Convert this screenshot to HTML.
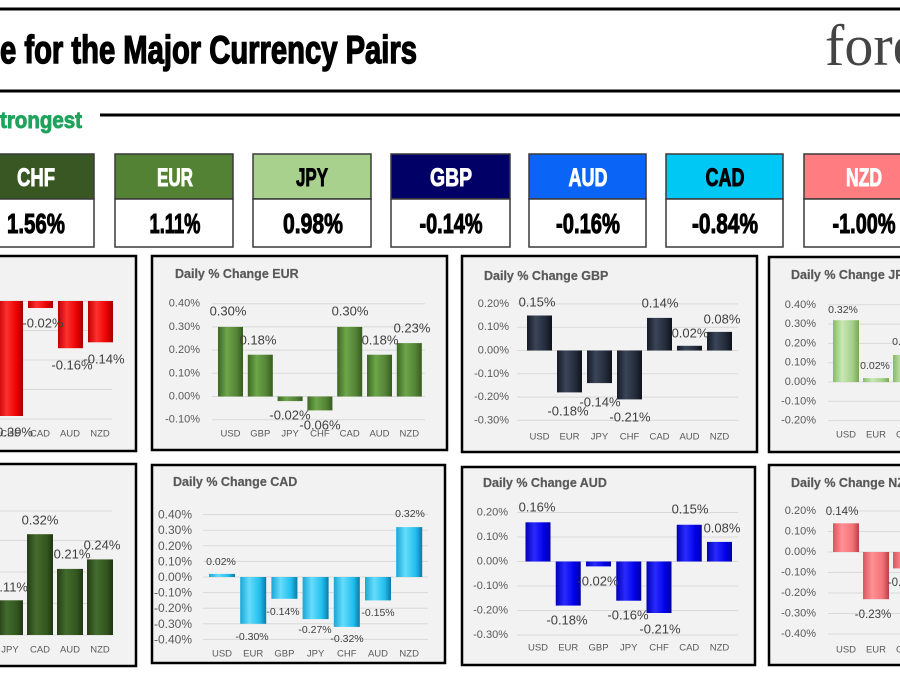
<!DOCTYPE html>
<html>
<head>
<meta charset="utf-8">
<style>
html,body{margin:0;padding:0;background:#fff;}
svg{display:block;}
text{font-family:"Liberation Sans",Arial,sans-serif;}
.t{font-size:12.5px;font-weight:bold;fill:#595959;stroke:#595959;stroke-width:0.2;}
.y{font-size:11px;fill:#595959;text-anchor:end;dominant-baseline:central;}
.c{font-size:9.5px;fill:#595959;text-anchor:middle;dominant-baseline:central;}
.d{font-size:13px;fill:#404040;text-anchor:middle;dominant-baseline:central;}
.ds{font-size:10.5px;fill:#404040;text-anchor:middle;dominant-baseline:central;}
.g{stroke:#d9d9d9;stroke-width:1;}
.p{fill:#f2f2f2;stroke:#000;stroke-width:2.5;}
.hb{font-weight:bold;font-size:25px;text-anchor:middle;stroke-width:0.9;}
.vb{font-weight:bold;font-size:28px;text-anchor:middle;fill:#000;stroke:#000;stroke-width:1;}
</style>
</head>
<body>
<svg width="900" height="676" viewBox="0 0 900 676" xmlns="http://www.w3.org/2000/svg">
<defs>
<linearGradient id="gR"><stop offset="0" stop-color="#c00000"/><stop offset=".35" stop-color="#ff3030"/><stop offset=".75" stop-color="#ea0000"/><stop offset="1" stop-color="#a00000"/></linearGradient>
<linearGradient id="gD"><stop offset="0" stop-color="#243d16"/><stop offset=".35" stop-color="#436c2d"/><stop offset=".75" stop-color="#34561f"/><stop offset="1" stop-color="#1f3513"/></linearGradient>
<linearGradient id="gE"><stop offset="0" stop-color="#3d6823"/><stop offset=".35" stop-color="#6ca64a"/><stop offset=".75" stop-color="#548235"/><stop offset="1" stop-color="#355c1e"/></linearGradient>
<linearGradient id="gJ"><stop offset="0" stop-color="#86ba66"/><stop offset=".35" stop-color="#c9e8b4"/><stop offset=".75" stop-color="#a5cf8a"/><stop offset="1" stop-color="#75a855"/></linearGradient>
<linearGradient id="gG"><stop offset="0" stop-color="#151a26"/><stop offset=".35" stop-color="#3a4558"/><stop offset=".75" stop-color="#232b3a"/><stop offset="1" stop-color="#0e121a"/></linearGradient>
<linearGradient id="gA"><stop offset="0" stop-color="#0000b8"/><stop offset=".35" stop-color="#2a2aff"/><stop offset=".75" stop-color="#0000e8"/><stop offset="1" stop-color="#00009a"/></linearGradient>
<linearGradient id="gC"><stop offset="0" stop-color="#19a6d6"/><stop offset=".35" stop-color="#66dcfb"/><stop offset=".75" stop-color="#22bfee"/><stop offset="1" stop-color="#0a7aa8"/></linearGradient>
<linearGradient id="gN"><stop offset="0" stop-color="#d9565e"/><stop offset=".35" stop-color="#ff9094"/><stop offset=".75" stop-color="#f37378"/><stop offset="1" stop-color="#bb3f47"/></linearGradient>
</defs>

<!-- header lines -->
<line x1="0" y1="9" x2="900" y2="9" stroke="#000" stroke-width="3"/>
<line x1="0" y1="91" x2="900" y2="91" stroke="#000" stroke-width="3"/>
<line x1="100" y1="115" x2="900" y2="115" stroke="#000" stroke-width="3"/>

<text x="0" y="63" font-size="39" font-weight="bold" fill="#000" stroke="#000" stroke-width="1.4" textLength="417" lengthAdjust="spacingAndGlyphs">e for the Major Currency Pairs</text>
<text x="825" y="65" font-size="58" fill="#444" style="font-family:'Liberation Serif',serif">forexlive</text>
<text x="0" y="128" font-size="23" font-weight="bold" fill="#1fa35c" stroke="#1fa35c" stroke-width="0.9" textLength="82" lengthAdjust="spacingAndGlyphs">trongest</text>

<!-- currency boxes -->
<g stroke="#3a3a3a" stroke-width="1.5">
<rect x="-23" y="154" width="117" height="45" fill="#385723"/><rect x="-23" y="199" width="117" height="48" fill="#fff"/>
<rect x="115" y="154" width="118" height="45" fill="#548235"/><rect x="115" y="199" width="118" height="48" fill="#fff"/>
<rect x="253" y="154" width="118" height="45" fill="#a9d18e"/><rect x="253" y="199" width="118" height="48" fill="#fff"/>
<rect x="391" y="154" width="119" height="45" fill="#000066"/><rect x="391" y="199" width="119" height="48" fill="#fff"/>
<rect x="529" y="154" width="117" height="45" fill="#0a64f5"/><rect x="529" y="199" width="117" height="48" fill="#fff"/>
<rect x="666" y="154" width="117" height="45" fill="#00c8f5"/><rect x="666" y="199" width="117" height="48" fill="#fff"/>
<rect x="804" y="154" width="117" height="45" fill="#ff7c80"/><rect x="804" y="199" width="117" height="48" fill="#fff"/>
</g>
<text class="hb" x="36" y="186" fill="#fff" stroke="#fff" textLength="38" lengthAdjust="spacingAndGlyphs">CHF</text>
<text class="hb" x="175" y="186" fill="#fff" stroke="#fff" textLength="36" lengthAdjust="spacingAndGlyphs">EUR</text>
<text class="hb" x="312" y="186" fill="#000" stroke="#000" textLength="32" lengthAdjust="spacingAndGlyphs">JPY</text>
<text class="hb" x="451" y="186" fill="#fff" stroke="#fff" textLength="42" lengthAdjust="spacingAndGlyphs">GBP</text>
<text class="hb" x="588" y="186" fill="#fff" stroke="#fff" textLength="39" lengthAdjust="spacingAndGlyphs">AUD</text>
<text class="hb" x="725" y="186" fill="#000" stroke="#000" textLength="39" lengthAdjust="spacingAndGlyphs">CAD</text>
<text class="hb" x="864" y="186" fill="#fff" stroke="#fff" textLength="36" lengthAdjust="spacingAndGlyphs">NZD</text>

<text class="vb" x="36" y="233" textLength="58" lengthAdjust="spacingAndGlyphs">1.56%</text>
<text class="vb" x="175" y="233" textLength="51" lengthAdjust="spacingAndGlyphs">1.11%</text>
<text class="vb" x="313" y="233" textLength="60" lengthAdjust="spacingAndGlyphs">0.98%</text>
<text class="vb" x="451" y="233" textLength="63" lengthAdjust="spacingAndGlyphs">-0.14%</text>
<text class="vb" x="588" y="233" textLength="64" lengthAdjust="spacingAndGlyphs">-0.16%</text>
<text class="vb" x="725" y="233" textLength="66" lengthAdjust="spacingAndGlyphs">-0.84%</text>
<text class="vb" x="864" y="233" textLength="63" lengthAdjust="spacingAndGlyphs">-1.00%</text>

<!-- P1 USD (red) -->
<rect class="p" x="-5" y="256" width="141" height="195"/>
<g class="g"><line x1="0" y1="301" x2="112" y2="301"/><line x1="0" y1="330.5" x2="112" y2="330.5"/><line x1="0" y1="360" x2="112" y2="360"/><line x1="0" y1="389.5" x2="112" y2="389.5"/><line x1="0" y1="419" x2="112" y2="419"/></g>
<g fill="url(#gR)">
<rect x="-2" y="301" width="25" height="115"/>
<rect x="28" y="301" width="25" height="7"/>
<rect x="58" y="301" width="25" height="47.2"/>
<rect x="88" y="301" width="25" height="41.3"/>
</g>
<text class="c" x="10" y="434">CHF</text><text class="c" x="40" y="434">CAD</text><text class="c" x="70" y="434">AUD</text><text class="c" x="100" y="434">NZD</text>
<text class="d" x="43" y="323">-0.02%</text>
<text class="d" x="104" y="359">-0.14%</text>
<text class="d" x="72" y="365">-0.16%</text>
<text class="d" x="33" y="432" style="text-anchor:end">-0.39%</text>

<!-- P2 CHF (dark green) -->
<rect class="p" x="-5" y="464" width="141" height="202"/>
<g class="g"><line x1="0" y1="635" x2="112" y2="635"/><line x1="0" y1="603.5" x2="112" y2="603.5"/><line x1="0" y1="572" x2="112" y2="572"/><line x1="0" y1="540.5" x2="112" y2="540.5"/><line x1="0" y1="511" x2="112" y2="511"/></g>
<g fill="url(#gD)">
<rect x="-2" y="600.3" width="25" height="34.7"/>
<rect x="27" y="534.2" width="26" height="100.8"/>
<rect x="57" y="568.9" width="26" height="66.1"/>
<rect x="87" y="559.4" width="26" height="75.6"/>
</g>
<text class="c" x="10" y="650">JPY</text><text class="c" x="40" y="650">CAD</text><text class="c" x="70" y="650">AUD</text><text class="c" x="100" y="650">NZD</text>
<text class="d" x="28" y="587" style="text-anchor:end">0.11%</text>
<text class="d" x="40" y="520">0.32%</text>
<text class="d" x="102" y="545">0.24%</text>
<text class="d" x="72" y="554">0.21%</text>

<!-- P3 EUR -->
<rect class="p" x="152" y="256" width="295" height="194"/>
<text class="t" x="175" y="278">Daily % Change EUR</text>
<g class="g"><line x1="212" y1="303.7" x2="425" y2="303.7"/><line x1="212" y1="326.9" x2="425" y2="326.9"/><line x1="212" y1="350.1" x2="425" y2="350.1"/><line x1="212" y1="373.3" x2="425" y2="373.3"/><line x1="212" y1="396.5" x2="425" y2="396.5"/><line x1="212" y1="419.7" x2="425" y2="419.7"/></g>
<text class="y" x="200" y="303.7">0.40%</text><text class="y" x="200" y="326.9">0.30%</text><text class="y" x="200" y="350.1">0.20%</text><text class="y" x="200" y="373.3">0.10%</text><text class="y" x="200" y="396.5">0.00%</text><text class="y" x="200" y="419.7">-0.10%</text>
<g fill="url(#gE)">
<rect x="218" y="326.9" width="25" height="69.6"/>
<rect x="247.8" y="354.7" width="25" height="41.8"/>
<rect x="277.6" y="396.5" width="25" height="4.6"/>
<rect x="307.4" y="396.5" width="25" height="13.9"/>
<rect x="337.2" y="326.9" width="25" height="69.6"/>
<rect x="367" y="354.7" width="25" height="41.8"/>
<rect x="396.8" y="343.1" width="25" height="53.4"/>
</g>
<text class="c" x="230.5" y="434">USD</text><text class="c" x="260.3" y="434">GBP</text><text class="c" x="290.1" y="434">JPY</text><text class="c" x="319.9" y="434">CHF</text><text class="c" x="349.7" y="434">CAD</text><text class="c" x="379.5" y="434">AUD</text><text class="c" x="409.3" y="434">NZD</text>
<text class="d" x="228" y="311">0.30%</text><text class="d" x="258" y="340">0.18%</text><text class="d" x="290" y="415">-0.02%</text><text class="d" x="320" y="425">-0.06%</text><text class="d" x="350" y="311">0.30%</text><text class="d" x="380" y="340">0.18%</text><text class="d" x="412" y="328">0.23%</text>

<!-- P4 GBP -->
<rect class="p" x="462" y="256" width="295" height="196"/>
<text class="t" x="484" y="280">Daily % Change GBP</text>
<g class="g"><line x1="517" y1="303.9" x2="738" y2="303.9"/><line x1="517" y1="327.2" x2="738" y2="327.2"/><line x1="517" y1="350.5" x2="738" y2="350.5"/><line x1="517" y1="373.8" x2="738" y2="373.8"/><line x1="517" y1="397.1" x2="738" y2="397.1"/><line x1="517" y1="420.4" x2="738" y2="420.4"/></g>
<text class="y" x="509" y="303.9">0.20%</text><text class="y" x="509" y="327.2">0.10%</text><text class="y" x="509" y="350.5">0.00%</text><text class="y" x="509" y="373.8">-0.10%</text><text class="y" x="509" y="397.1">-0.20%</text><text class="y" x="509" y="420.4">-0.30%</text>
<g fill="url(#gG)">
<rect x="527" y="315.5" width="25" height="35"/>
<rect x="557" y="350.5" width="25" height="41.9"/>
<rect x="587" y="350.5" width="25" height="32.6"/>
<rect x="617" y="350.5" width="25" height="48.9"/>
<rect x="647" y="317.9" width="25" height="32.6"/>
<rect x="677" y="345.8" width="25" height="4.7"/>
<rect x="707" y="331.9" width="25" height="18.6"/>
</g>
<text class="c" x="539.5" y="437">USD</text><text class="c" x="569.5" y="437">EUR</text><text class="c" x="599.5" y="437">JPY</text><text class="c" x="629.5" y="437">CHF</text><text class="c" x="659.5" y="437">CAD</text><text class="c" x="689.5" y="437">AUD</text><text class="c" x="719.5" y="437">NZD</text>
<text class="d" x="537" y="302">0.15%</text><text class="d" x="568" y="411">-0.18%</text><text class="d" x="600" y="402">-0.14%</text><text class="d" x="630" y="417">-0.21%</text><text class="d" x="660" y="303">0.14%</text><text class="d" x="690" y="333">0.02%</text><text class="d" x="722" y="319">0.08%</text>

<!-- P5 JPY -->
<rect class="p" x="769" y="257" width="140" height="195"/>
<text class="t" x="791" y="279">Daily % Change JPY</text>
<g class="g"><line x1="828" y1="304.8" x2="900" y2="304.8"/><line x1="828" y1="324.1" x2="900" y2="324.1"/><line x1="828" y1="343.4" x2="900" y2="343.4"/><line x1="828" y1="362.7" x2="900" y2="362.7"/><line x1="828" y1="382" x2="900" y2="382"/><line x1="828" y1="401.3" x2="900" y2="401.3"/><line x1="828" y1="420.6" x2="900" y2="420.6"/></g>
<text class="y" x="816" y="304.8">0.40%</text><text class="y" x="816" y="324.1">0.30%</text><text class="y" x="816" y="343.4">0.20%</text><text class="y" x="816" y="362.7">0.10%</text><text class="y" x="816" y="382">0.00%</text><text class="y" x="816" y="401.3">-0.10%</text><text class="y" x="816" y="420.6">-0.20%</text>
<g fill="url(#gJ)">
<rect x="833" y="320.2" width="26" height="61.8"/>
<rect x="863" y="378.1" width="26" height="3.9"/>
<rect x="893" y="355" width="26" height="27"/>
</g>
<text class="c" x="846" y="435">USD</text><text class="c" x="876" y="435">EUR</text><text class="c" x="906" y="435">GBP</text>
<text class="ds" x="843" y="310">0.32%</text><text class="ds" x="875" y="366">0.02%</text><text class="ds" x="907" y="342">0.14%</text>

<!-- P6 CAD -->
<rect class="p" x="152" y="465" width="293" height="198"/>
<text class="t" x="173" y="486">Daily % Change CAD</text>
<g class="g"><line x1="203" y1="514.6" x2="428" y2="514.6"/><line x1="203" y1="530.2" x2="428" y2="530.2"/><line x1="203" y1="545.8" x2="428" y2="545.8"/><line x1="203" y1="561.4" x2="428" y2="561.4"/><line x1="203" y1="577" x2="428" y2="577"/><line x1="203" y1="592.6" x2="428" y2="592.6"/><line x1="203" y1="608.2" x2="428" y2="608.2"/><line x1="203" y1="623.8" x2="428" y2="623.8"/><line x1="203" y1="639.4" x2="428" y2="639.4"/></g>
<text class="y" x="192" y="514.6" style="font-size:12px">0.40%</text><text class="y" x="192" y="530.2" style="font-size:12px">0.30%</text><text class="y" x="192" y="545.8" style="font-size:12px">0.20%</text><text class="y" x="192" y="561.4" style="font-size:12px">0.10%</text><text class="y" x="192" y="577" style="font-size:12px">0.00%</text><text class="y" x="192" y="592.6" style="font-size:12px">-0.10%</text><text class="y" x="192" y="608.2" style="font-size:12px">-0.20%</text><text class="y" x="192" y="623.8" style="font-size:12px">-0.30%</text><text class="y" x="192" y="639.4" style="font-size:12px">-0.40%</text>
<g fill="url(#gC)">
<rect x="209" y="573.9" width="26" height="3.1"/>
<rect x="240.2" y="577" width="26" height="46.8"/>
<rect x="271.4" y="577" width="26" height="21.8"/>
<rect x="302.6" y="577" width="26" height="42.1"/>
<rect x="333.8" y="577" width="26" height="49.9"/>
<rect x="365" y="577" width="26" height="23.4"/>
<rect x="396.2" y="527.1" width="26" height="49.9"/>
</g>
<text class="c" x="222" y="654">USD</text><text class="c" x="253.2" y="654">EUR</text><text class="c" x="284.4" y="654">GBP</text><text class="c" x="315.6" y="654">JPY</text><text class="c" x="346.8" y="654">CHF</text><text class="c" x="378" y="654">AUD</text><text class="c" x="409.2" y="654">NZD</text>
<text class="ds" x="221" y="562">0.02%</text><text class="ds" x="252" y="637">-0.30%</text><text class="ds" x="283" y="612">-0.14%</text><text class="ds" x="315" y="630">-0.27%</text><text class="ds" x="347" y="639">-0.32%</text><text class="ds" x="378" y="613">-0.15%</text><text class="ds" x="410" y="514">0.32%</text>

<!-- P7 AUD -->
<rect class="p" x="462" y="467" width="293" height="198"/>
<text class="t" x="483" y="487">Daily % Change AUD</text>
<g class="g"><line x1="517" y1="512.5" x2="738" y2="512.5"/><line x1="517" y1="537" x2="738" y2="537"/><line x1="517" y1="561.5" x2="738" y2="561.5"/><line x1="517" y1="586" x2="738" y2="586"/><line x1="517" y1="610.5" x2="738" y2="610.5"/><line x1="517" y1="635" x2="738" y2="635"/></g>
<text class="y" x="508" y="512.5">0.20%</text><text class="y" x="508" y="537">0.10%</text><text class="y" x="508" y="561.5">0.00%</text><text class="y" x="508" y="586">-0.10%</text><text class="y" x="508" y="610.5">-0.20%</text><text class="y" x="508" y="635">-0.30%</text>
<g fill="url(#gA)">
<rect x="525.5" y="522.3" width="25" height="39.2"/>
<rect x="555.75" y="561.5" width="25" height="44.1"/>
<rect x="586" y="561.5" width="25" height="4.9"/>
<rect x="616.25" y="561.5" width="25" height="39.2"/>
<rect x="646.5" y="561.5" width="25" height="51.5"/>
<rect x="676.75" y="524.75" width="25" height="36.75"/>
<rect x="707" y="541.9" width="25" height="19.6"/>
</g>
<text class="c" x="538" y="648">USD</text><text class="c" x="568.25" y="648">EUR</text><text class="c" x="598.5" y="648">GBP</text><text class="c" x="628.75" y="648">JPY</text><text class="c" x="659" y="648">CHF</text><text class="c" x="689.25" y="648">CAD</text><text class="c" x="719.5" y="648">NZD</text>
<text class="d" x="537" y="507">0.16%</text><text class="d" x="567" y="620">-0.18%</text><text class="d" x="598" y="581">-0.02%</text><text class="d" x="628" y="615">-0.16%</text><text class="d" x="660" y="629">-0.21%</text><text class="d" x="690" y="509">0.15%</text><text class="d" x="722" y="528">0.08%</text>

<!-- P8 NZD -->
<rect class="p" x="769" y="465" width="140" height="200"/>
<text class="t" x="791" y="487">Daily % Change NZD</text>
<g class="g"><line x1="828" y1="511" x2="900" y2="511"/><line x1="828" y1="531.5" x2="900" y2="531.5"/><line x1="828" y1="552" x2="900" y2="552"/><line x1="828" y1="572.5" x2="900" y2="572.5"/><line x1="828" y1="593" x2="900" y2="593"/><line x1="828" y1="613.5" x2="900" y2="613.5"/><line x1="828" y1="634" x2="900" y2="634"/></g>
<text class="y" x="816" y="511">0.20%</text><text class="y" x="816" y="531.5">0.10%</text><text class="y" x="816" y="552">0.00%</text><text class="y" x="816" y="572.5">-0.10%</text><text class="y" x="816" y="593">-0.20%</text><text class="y" x="816" y="613.5">-0.30%</text><text class="y" x="816" y="634">-0.40%</text>
<g fill="url(#gN)">
<rect x="833" y="523.3" width="26" height="28.7"/>
<rect x="863" y="552" width="26" height="47.2"/>
<rect x="893" y="552" width="26" height="16.4"/>
</g>
<text class="c" x="846" y="650">USD</text><text class="c" x="876" y="650">EUR</text><text class="c" x="906" y="650">GBP</text>
<text class="d" x="842" y="512" style="font-size:11.5px">0.14%</text><text class="d" x="873" y="615" style="font-size:11.5px">-0.23%</text><text class="d" x="906" y="583" style="font-size:11.5px">-0.08%</text>
</svg>
</body>
</html>
